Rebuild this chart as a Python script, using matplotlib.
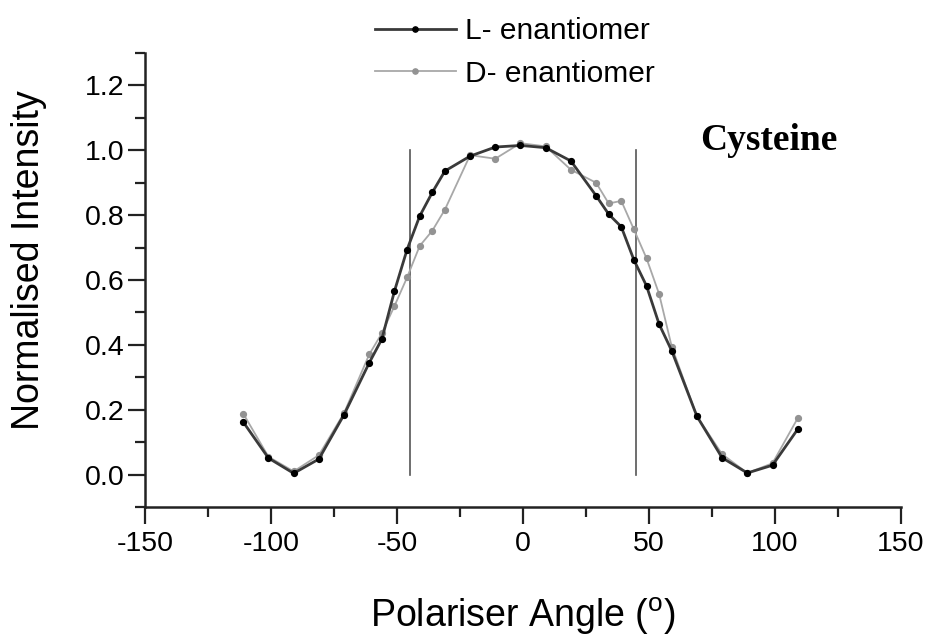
import matplotlib
matplotlib.use("Agg")
import matplotlib.pyplot as plt
from matplotlib.ticker import MultipleLocator

plt.rcParams['font.family'] = ['Liberation Sans', 'DejaVu Sans']
plt.rcParams['mathtext.fontset'] = 'custom'
plt.rcParams['mathtext.rm'] = 'Liberation Sans'
plt.rcParams['axes.unicode_minus'] = False

# polariser angle (deg)
angle = [-111, -101, -91, -81, -71, -61, -56, -51, -46, -41, -36, -31, -21, -11, -1,
         9, 19, 29, 34, 39, 44, 49, 54, 59, 69, 79, 89, 99, 109]
l_enantiomer = [0.162, 0.051, 0.004, 0.048, 0.185, 0.345, 0.418, 0.566, 0.694, 0.797,
                0.870, 0.936, 0.982, 1.010, 1.015, 1.008, 0.967, 0.860, 0.803, 0.764,
                0.662, 0.582, 0.464, 0.382, 0.180, 0.052, 0.005, 0.029, 0.140]
d_enantiomer = [0.188, 0.055, 0.010, 0.060, 0.190, 0.371, 0.436, 0.520, 0.608, 0.705,
                0.752, 0.817, 0.985, 0.974, 1.022, 1.012, 0.940, 0.900, 0.836, 0.844,
                0.756, 0.667, 0.557, 0.395, 0.180, 0.063, 0.005, 0.035, 0.174]
marker_lines = [-45, 45]

fig = plt.figure(figsize=(9.27, 6.37), dpi=100)
ax = fig.add_axes([0.1564, 0.204, 0.972 - 0.1564, 0.9168 - 0.204])

ax.plot(angle, l_enantiomer, color='#3a3a3a', lw=2.0, marker='o', ms=4.2,
        mfc='black', mec='black', label='L- enantiomer', zorder=3)
ax.plot(angle, d_enantiomer, color='#a8a8a8', lw=1.3, marker='o', ms=4.2,
        mfc='#939393', mec='#939393', label='D- enantiomer', zorder=2)
for xv in marker_lines:
    ax.plot([xv, xv], [0, 1.0], color='#555555', lw=1.2, zorder=1)

ax.set_xlim(-150, 150)
ax.set_ylim(-0.1, 1.3)
ax.xaxis.set_major_locator(MultipleLocator(50))
ax.xaxis.set_minor_locator(MultipleLocator(25))
ax.yaxis.set_minor_locator(MultipleLocator(0.1))
ax.set_yticks([0.0, 0.2, 0.4, 0.6, 0.8, 1.0, 1.2])
ax.set_yticklabels(['0.0', '0.2', '0.4', '0.6', '0.8', '1.0', '1.2'])

for s in ['top', 'right']:
    ax.spines[s].set_visible(False)
for s in ['left', 'bottom']:
    ax.spines[s].set_linewidth(1.8)
    ax.spines[s].set_color('#222222')

ax.tick_params(which='major', direction='out', length=12, width=1.6,
               labelsize=20.5, color='#222222', pad=3)
ax.tick_params(axis='x', which='major', pad=5)
ax.tick_params(which='minor', direction='out', length=7, width=1.6, color='#222222')

ax.set_xlabel(r'Polariser Angle ($^{\mathrm{o}}$)', fontsize=27, labelpad=28)
ax.set_ylabel('Normalised Intensity', fontsize=27)
ax.yaxis.set_label_coords(-0.129, 0.544)

fig.text(700 / 927, 1 - 150 / 637, 'Cysteine', family='Liberation Serif',
         weight='bold', fontsize=27, va='baseline', ha='left')

fig.legend(loc='upper left', bbox_to_anchor=(375 / 927, 1 - 17 / 637),
           frameon=False, fontsize=21.5, handlelength=2.7, handletextpad=0.3,
           labelspacing=0.5, borderpad=0, borderaxespad=0, markerscale=0.9)

fig.savefig('out.png', dpi=100)
